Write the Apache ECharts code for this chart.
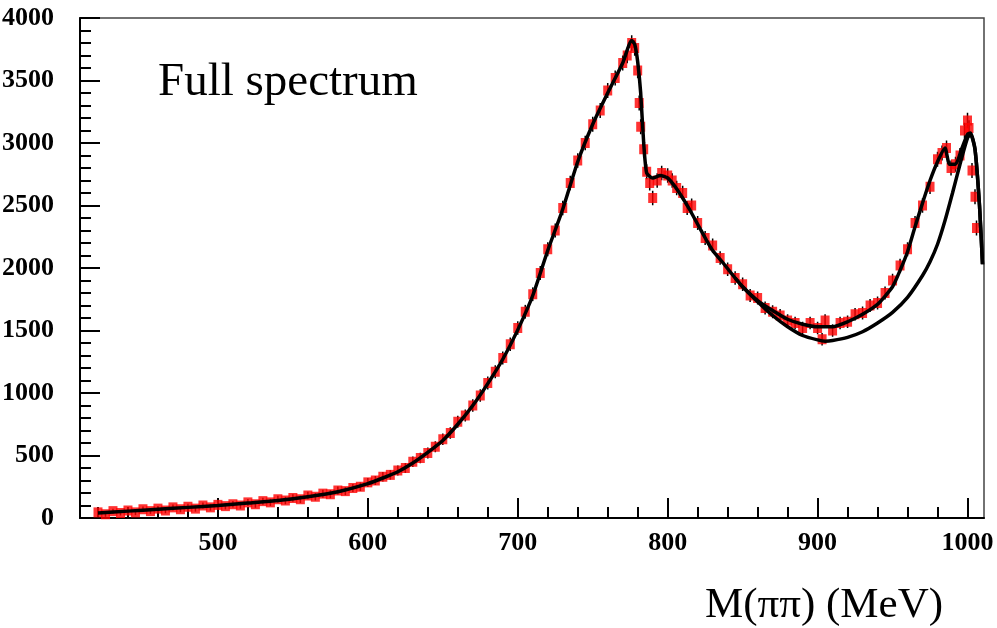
<!DOCTYPE html>
<html><head><meta charset="utf-8">
<script src="https://cdn.jsdelivr.net/npm/echarts@6/dist/echarts.min.js"></script>
<style>html,body{margin:0;padding:0;background:#fff}#c{width:997px;height:628px}</style>
</head><body><div id="c"></div>
<script>
// Measured data points (red)
const dataMass = [420,425,430,435,440,445,450,455,460,465,470,475,480,485,490,495,500,505,510,515,520,525,530,535,540,545,550,555,560,565,570,575,580,585,590,595,600,605,610,615,620,625,630,635,640,645,650,655,660,665,670,675,680,685,690,695,700,705,710,715,720,725,730,735,740,745,750,755,760,765,770,773,776,778,780,781,782,784,786,788,790,793,796,800,803,806,810,813,816,820,825,830,835,840,845,850,855,860,865,870,875,880,885,890,895,900,903,905,910,915,920,925,930,935,940,945,950,955,960,965,970,975,980,983,986,989,992,995,998,1000,1001,1003,1005,1006];
const dataCounts = [45,30,55,40,60,45,70,55,75,60,85,70,90,75,100,85,105,95,110,100,125,110,135,125,150,140,160,150,180,170,195,190,220,215,240,250,285,300,330,345,380,400,450,480,520,570,630,680,770,820,900,980,1080,1170,1280,1390,1520,1650,1790,1960,2150,2300,2480,2680,2860,3000,3150,3260,3420,3520,3640,3700,3800,3760,3580,3320,3130,2950,2770,2680,2560,2700,2760,2740,2700,2640,2600,2480,2500,2360,2240,2180,2080,1990,1920,1870,1780,1760,1680,1650,1620,1580,1560,1520,1560,1520,1430,1580,1500,1560,1570,1630,1640,1700,1720,1800,1900,2020,2150,2360,2500,2650,2870,2920,2960,2800,2830,2900,3100,3180,3120,2780,2570,2320];
const dataErrors = [20,20,20,20,20,22,22,22,22,22,24,24,24,24,24,26,26,26,26,26,28,28,28,28,28,30,30,30,30,30,32,32,32,32,32,34,36,36,38,38,40,40,42,42,44,44,46,46,48,48,50,50,52,52,52,54,54,55,55,56,56,56,58,58,58,58,60,60,60,60,60,62,62,62,62,60,60,60,60,60,58,58,58,58,58,58,58,56,56,56,56,56,54,54,54,54,52,52,52,52,52,50,50,50,50,50,50,50,50,50,50,50,52,52,52,52,54,54,56,56,58,58,60,60,60,60,60,60,62,62,62,60,60,60];

// Fit curve 1 (follows data)
const fitMass = [420,440,460,480,500,520,540,560,580,600,610,620,630,640,650,660,670,680,690,700,710,720,730,740,750,760,770,776,778,780,782,784,786,790,795,800,805,810,815,820,826,830,837,845,850,860,870,880,890,900,910,920,930,940,950,955,960,965,970,975,980,985,988,992,996,1000,1002,1005,1008,1010];
const fitCounts = [40,55,70,85,100,120,140,170,210,275,320,370,440,525,620,750,900,1075,1270,1505,1780,2140,2470,2850,3150,3400,3640,3820,3790,3650,3400,3000,2760,2720,2740,2720,2650,2560,2460,2350,2220,2140,2040,1920,1850,1740,1660,1590,1550,1530,1530,1570,1630,1710,1850,1980,2130,2330,2520,2700,2850,2960,2830,2830,2950,3070,3080,2950,2500,2030];

// Fit curve 2 (lower branch above ~850 MeV)
const fit2Mass = [845,850,860,870,880,890,900,905,910,920,930,940,950,960,970,975,980,985,990,995,1000,1002,1005,1008,1010];
const fit2Counts = [1920,1850,1730,1620,1530,1460,1425,1415,1420,1445,1490,1560,1645,1765,1940,2050,2190,2380,2600,2830,3040,3070,2950,2500,2030];

const xMajorTicks = [500,600,700,800,900,1000];
const xMinorTicks = [420,440,460,480,500,520,540,560,580,600,620,640,660,680,700,720,740,760,780,800,820,840,860,880,900,920,940,960,980,1000];

const zip = (a,b) => a.map((v,i) => [v, b[i]]);
const labelFont = {fontFamily:'Liberation Serif', fontWeight:'bold', fontSize:26, color:'#000', formatter:v => String(v)};

const chart = echarts.init(document.getElementById('c'), null, {renderer:'canvas'});
chart.setOption({
  animation:false,
  backgroundColor:'#fff',
  title:[
    {text:'Full spectrum', left:158, top:59, padding:0,
     textStyle:{fontFamily:'Liberation Serif', fontWeight:'normal', fontSize:47, color:'#000'}},
    {text:'M(\u03c0\u03c0) (MeV)', left:705, top:584, padding:0,
     textStyle:{fontFamily:'Liberation Serif', fontWeight:'normal', fontSize:43, color:'#000'}}
  ],
  grid:{left:80, right:13, top:18, bottom:110, show:true, borderColor:'#444', borderWidth:1.5,
        backgroundColor:'transparent', containLabel:false, outerBoundsMode:'none'},
  xAxis:[
    {type:'value', min:408, max:1011, position:'bottom',
     axisLine:{show:true, onZero:false, lineStyle:{color:'#000', width:2}},
     axisTick:{show:true, inside:true, length:20, customValues:xMajorTicks, lineStyle:{color:'#000', width:2}},
     axisLabel:Object.assign({show:true, margin:12, customValues:xMajorTicks}, labelFont),
     splitLine:{show:false}},
    {type:'value', min:408, max:1011, position:'bottom',
     axisLine:{show:false, onZero:false},
     axisTick:{show:true, inside:true, length:11, customValues:xMinorTicks, lineStyle:{color:'#000', width:2}},
     axisLabel:{show:false},
     splitLine:{show:false}}
  ],
  yAxis:{type:'value', min:0, max:4000, interval:500,
     axisLine:{show:true, onZero:false, lineStyle:{color:'#000', width:2}},
     axisTick:{show:true, inside:true, length:20, lineStyle:{color:'#000', width:2}},
     minorTick:{show:true, splitNumber:5, length:11, lineStyle:{color:'#000', width:2}},
     axisLabel:Object.assign({margin:26}, labelFont),
     splitLine:{show:false}, minorSplitLine:{show:false}},
  series:[
    {type:'custom', xAxisIndex:0, silent:true, z:1,
     data:dataMass.map((m,i) => [m, dataCounts[i], dataErrors[i]]),
     renderItem:(params, api) => {
       const x = api.value(0), y = api.value(1), e = api.value(2);
       const p1 = api.coord([x, y - e]), p2 = api.coord([x, y + e]);
       return {type:'line', shape:{x1:p1[0], y1:p1[1], x2:p2[0], y2:p2[1]},
               style:{stroke:'#000', lineWidth:1.5}};
     }},
    {type:'scatter', xAxisIndex:0, data:zip(dataMass, dataCounts), symbol:'rect', symbolSize:[9,10],
     itemStyle:{color:'#ff0000'}, z:2, silent:true},
    {type:'line', xAxisIndex:0, data:zip(fit2Mass, fit2Counts), showSymbol:false, smooth:0.2,
     lineStyle:{color:'#000', width:3.5}, z:3, silent:true},
    {type:'line', xAxisIndex:0, data:zip(fitMass, fitCounts), showSymbol:false, smooth:0.2,
     lineStyle:{color:'#000', width:3.5}, z:4, silent:true}
  ]
});
</script></body></html>
